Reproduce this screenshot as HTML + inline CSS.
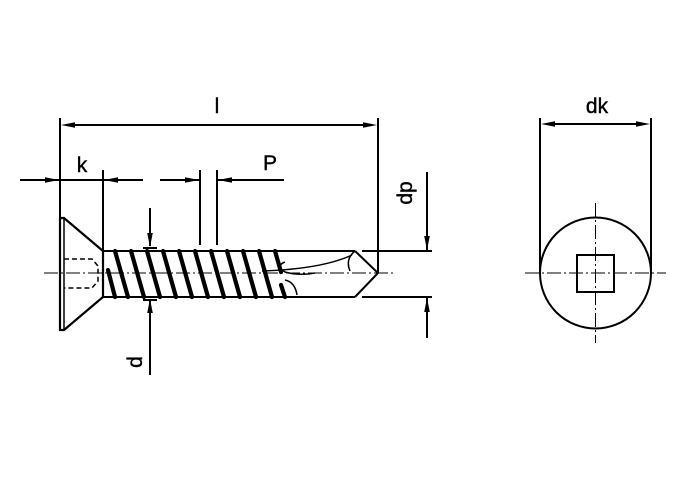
<!DOCTYPE html><html><head><style>body{margin:0;background:#fff}svg{display:block}</style></head><body>
<svg width="699" height="479" viewBox="0 0 699 479" xmlns="http://www.w3.org/2000/svg" font-family="Liberation Sans, DejaVu Sans, sans-serif">
<g stroke="#000" stroke-width="2" fill="none">
<!-- l -->
<line x1="60" y1="118" x2="60" y2="218"/><line x1="378" y1="118" x2="378" y2="273"/>
<line x1="72" y1="125" x2="366" y2="125"/>
<path d="M61,125 l14,-2.8 v5.6z M377,125 l-14,-2.8 v5.6z" fill="#000" stroke="none"/>
<!-- k -->
<line x1="103" y1="170" x2="103" y2="250"/>
<line x1="20" y1="180" x2="143" y2="180"/>
<path d="M59,180 l-14,-2.8 v5.6z M104,180 l14,-2.8 v5.6z" fill="#000" stroke="none"/>
<!-- P -->
<line x1="200" y1="170" x2="200" y2="245"/><line x1="217" y1="170" x2="217" y2="245"/>
<line x1="160" y1="180" x2="199" y2="180"/><line x1="218" y1="180" x2="284" y2="180"/>
<path d="M199,180 l-14,-2.8 v5.6z M218,180 l14,-2.8 v5.6z" fill="#000" stroke="none"/>
<!-- dp -->
<line x1="427" y1="172" x2="427" y2="250"/><line x1="427" y1="298" x2="427" y2="338"/>
<path d="M427,250 l-2.8,-14 h5.6z M427,298 l-2.8,14 h5.6z" fill="#000" stroke="none"/>
<line x1="362" y1="251" x2="432" y2="251"/><line x1="362" y1="297" x2="432" y2="297"/>
<!-- d -->
<line x1="150" y1="208" x2="150" y2="246"/><line x1="150" y1="300" x2="150" y2="375"/>
<path d="M150,247 l-2.8,-14 h5.6z M150,299 l-2.8,14 h5.6z" fill="#000" stroke="none"/>
<line x1="143" y1="248" x2="157" y2="248"/><line x1="143" y1="300" x2="157" y2="300"/>
<!-- head -->
<path d="M60,218 L60,330 L64,330 L103,297 L103,251 L64,218 Z" stroke-width="2.2"/>
<path d="M64,218 V330" stroke-width="1.5"/>
<!-- shank -->
<line x1="103" y1="251" x2="355" y2="251"/><line x1="103" y1="297" x2="355" y2="297"/>
<path d="M355,251 L378,273 L355,297"/>
<path d="M355,251 q-10,8 -5,20 M352,255 q-30,14 -90,16" stroke-width="1.5"/>
<path d="M285,262 q-10,4 0,10 q14,4 30,1 M285,280 q10,2 12,15" stroke-width="1.5"/>
<!-- recess dashed -->
<path d="M64,259 H92 L98,266 V281 L92,288 H64" stroke-dasharray="5,3" stroke-width="1.5"/>
<!-- center line -->
<line x1="44" y1="273" x2="395" y2="273" stroke-width="1" stroke-dasharray="14,3,2,3"/>
</g>
<!-- threads -->
<g stroke="#000" stroke-width="4.2" fill="none" stroke-linecap="round">
<path d="M115,251 L128,297 M131,251 L144,297 M147,251 L160,297 M163,251 L176,297 M179,251 L192,297 M195,251 L208,297 M211,251 L224,297 M227,251 L240,297 M243,251 L256,297 M259,251 L272,297 M275,251 L281,272"/>
<path d="M108,270 L115,297 M281,285 L285,297" />
</g>
<!-- right view -->
<g stroke="#000" stroke-width="2" fill="none">
<line x1="540" y1="118" x2="540" y2="273"/><line x1="651" y1="118" x2="651" y2="273"/>
<line x1="552" y1="124" x2="639" y2="124"/>
<path d="M541,124 l14,-2.8 v5.6z M650,124 l-14,-2.8 v5.6z" fill="#000" stroke="none"/>
<circle cx="595.5" cy="273" r="55.5"/>
<rect x="577" y="255" width="37" height="37"/>
<line x1="525" y1="273" x2="666" y2="273" stroke-width="1" stroke-dasharray="14,3,2,3"/>
<line x1="595.5" y1="203" x2="595.5" y2="343" stroke-width="1" stroke-dasharray="14,3,2,3"/>
</g>
<g font-size="21" fill="#000" stroke="#000" stroke-width="0.4">
<text x="217" y="113" text-anchor="middle">l</text>
<text x="82" y="172" text-anchor="middle">k</text>
<text x="270" y="170" text-anchor="middle">P</text>
<text x="597" y="113" text-anchor="middle">dk</text>
<text transform="translate(412,193) rotate(-90)" text-anchor="middle">dp</text>
<text transform="translate(142,362) rotate(-90)" text-anchor="middle">d</text>
</g>
</svg></body></html>
